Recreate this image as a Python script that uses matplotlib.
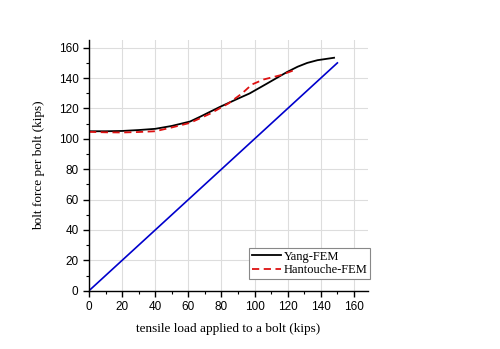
import matplotlib
matplotlib.use('Agg')
import matplotlib.pyplot as plt
from matplotlib.ticker import MultipleLocator

# bolt force vs applied tensile load
yang_x = [0, 10, 20, 30, 40, 50, 61, 67, 79, 90, 97, 107.5, 119.6, 126, 131.8, 138, 144.9, 148]
yang_y = [105, 105, 105.2, 105.8, 106.6, 108.5, 111.4, 114.5, 121, 126.5, 129.9, 136.4, 144, 147.5, 150, 151.8, 152.9, 153.4]

hant_x = [0, 10, 20, 30, 40, 50, 61, 73, 84.2, 92.4, 98.4, 105.5, 115.6, 122.6, 125]
hant_y = [104.6, 104.3, 104.2, 104.5, 105, 107.5, 110.5, 116.5, 123.3, 129.9, 135.8, 139.1, 141.9, 144.7, 145.5]

ideal_x = [0, 150]
ideal_y = [0, 150]

fig = plt.figure(figsize=(5.0, 3.49), dpi=100)
ax = fig.add_axes([0.178, 0.167, 0.558, 0.718])

ax.plot(ideal_x, ideal_y, color='#0000cc', lw=1.2)
ax.plot(yang_x, yang_y, color='black', lw=1.3, label='Yang-FEM')
ax.plot(hant_x, hant_y, color='#dd1111', lw=1.3, ls=(0, (4, 2.5)), label='Hantouche-FEM')

ax.set_xlim(0, 168.5)
ax.set_ylim(0, 165)
ax.xaxis.set_major_locator(MultipleLocator(20))
ax.xaxis.set_minor_locator(MultipleLocator(10))
ax.yaxis.set_major_locator(MultipleLocator(20))
ax.yaxis.set_minor_locator(MultipleLocator(10))
ax.grid(True, which='major', color='#dddddd', lw=0.8)
ax.set_axisbelow(True)

for s in ['top', 'right']:
    ax.spines[s].set_visible(False)
for s in ['left', 'bottom']:
    ax.spines[s].set_linewidth(1.0)

ax.tick_params(which='major', direction='out', length=4, width=1.0, labelsize=8.5)
ax.tick_params(which='minor', direction='out', length=2, width=0.8)
for lab in ax.get_xticklabels() + ax.get_yticklabels():
    lab.set_family('Liberation Sans')

ax.set_xlabel('tensile load applied to a bolt (kips)', family='Liberation Serif', fontsize=9.5, labelpad=7)
ax.set_ylabel('bolt force per bolt (kips)', family='Liberation Serif', fontsize=9.5, labelpad=10)

leg = ax.legend(loc='lower right', bbox_to_anchor=(1.007, 0.047),
                prop={'family': 'Liberation Serif', 'size': 9},
                fancybox=False, framealpha=1, edgecolor='#888888', borderaxespad=0,
                handlelength=2.3, borderpad=0.2, labelspacing=0.15, handletextpad=0.25)
leg.get_frame().set_linewidth(0.8)

fig.savefig('out.png', dpi=100)
